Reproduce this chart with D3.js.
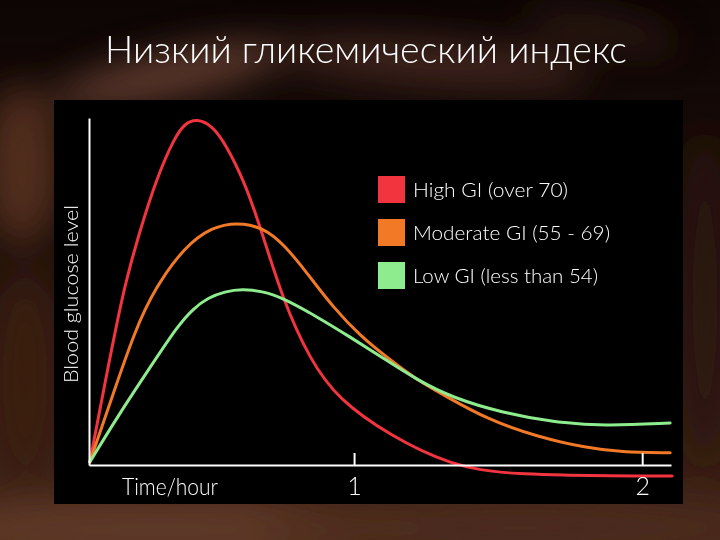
<!DOCTYPE html>
<html><head><meta charset="utf-8">
<script src="https://cdn.jsdelivr.net/npm/d3@7"></script>
<style>html,body{margin:0;padding:0;background:#140a07;overflow:hidden}svg{display:block}</style>
</head><body>
<script>
// ---- data ----
const titleText = "Низкий гликемический индекс";
const yLabelText = "Blood glucose level";
const xLabelText = "Time/hour";
const xTickValues = [1, 2];
const seriesNames = ["High GI (over 70)", "Moderate GI (55 - 69)", "Low GI (less than 54)"];
const seriesColors = ["#f2343f", "#f27a26", "#8eec8e"];

// time (hours) and relative blood glucose level (0-100)
const highT = [0.083, 0.142, 0.201, 0.250, 0.316, 0.378, 0.413, 0.455, 0.507, 0.552, 0.622, 0.681, 0.753, 0.847, 0.944, 1.125, 1.333, 1.531, 2.104];
const highV = [0.9, 26.5, 51.0, 65.7, 83.0, 94.5, 98.5, 99.8, 97.8, 92.8, 81.3, 66.9, 47.6, 30.3, 19.0, 8.4, 0.0, -3.0, -3.2];
const modT = [0.083, 0.160, 0.240, 0.309, 0.413, 0.507, 0.594, 0.681, 0.760, 0.847, 0.927, 1.021, 1.125, 1.219, 1.323, 1.462, 1.635, 1.809, 1.924, 2.097];
const modV = [0.9, 19.6, 38.9, 51.0, 63.0, 68.6, 69.9, 68.6, 63.4, 54.2, 45.5, 37.2, 30.3, 24.5, 19.6, 13.2, 8.1, 4.9, 3.7, 3.5];
const lowT = [0.083, 0.181, 0.299, 0.389, 0.441, 0.493, 0.552, 0.611, 0.681, 0.750, 0.872, 0.986, 1.101, 1.219, 1.344, 1.517, 1.691, 1.865, 2.097];
const lowV = [0.9, 14.2, 29.0, 40.2, 45.0, 48.2, 50.0, 50.7, 50.1, 48.3, 42.7, 36.9, 30.8, 24.5, 19.3, 15.0, 12.4, 11.2, 12.1];

const series = [
  {name: seriesNames[0], color: seriesColors[0], t: highT, v: highV},
  {name: seriesNames[1], color: seriesColors[1], t: modT, v: modV},
  {name: seriesNames[2], color: seriesColors[2], t: lowT, v: lowV}
];

// ---- layout ----
const W = 720, H = 540;
const svg = d3.select("body").append("svg").attr("width", W).attr("height", H);
const defs = svg.append("defs");

// background
const bg = defs.append("linearGradient").attr("id", "bgGrad").attr("x1", 0).attr("y1", 0).attr("x2", 0).attr("y2", 1);
bg.append("stop").attr("offset", "0%").attr("stop-color", "#0c0504");
bg.append("stop").attr("offset", "45%").attr("stop-color", "#1e0f0a");
bg.append("stop").attr("offset", "100%").attr("stop-color", "#422418");
defs.append("filter").attr("id", "blur").attr("x", "-50%").attr("y", "-50%").attr("width", "200%").attr("height", "200%")
  .append("feGaussianBlur").attr("stdDeviation", 18);
svg.append("rect").attr("width", W).attr("height", H).attr("fill", "url(#bgGrad)");
const glows = [
  {cx: 170, cy: 75, rx: 120, ry: 22, rot: -12, c: "#734737", o: 0.8},
  {cx: 430, cy: 62, rx: 160, ry: 22, rot: 4, c: "#5e3828", o: 0.65},
  {cx: 600, cy: 30, rx: 80, ry: 16, rot: 10, c: "#4a2a1e", o: 0.5},
  {cx: 22, cy: 165, rx: 40, ry: 80, rot: 0, c: "#5a3322", o: 0.85},
  {cx: 25, cy: 380, rx: 40, ry: 110, rot: 0, c: "#3c1e13", o: 0.9},
  {cx: 160, cy: 530, rx: 260, ry: 35, rot: 0, c: "#603a28", o: 0.9},
  {cx: 520, cy: 528, rx: 260, ry: 30, rot: 0, c: "#4e2c1e", o: 0.9},
  {cx: 705, cy: 300, rx: 25, ry: 170, rot: 0, c: "#2c1710", o: 0.9}
];
svg.append("g").attr("filter", "url(#blur)").selectAll("ellipse").data(glows).join("ellipse")
  .attr("cx", d => d.cx).attr("cy", d => d.cy).attr("rx", d => d.rx).attr("ry", d => d.ry)
  .attr("transform", d => `rotate(${d.rot},${d.cx},${d.cy})`)
  .attr("fill", d => d.c).attr("opacity", d => d.o);

// title
svg.append("text").attr("x", 105).attr("y", 63)
  .attr("font-family", "Lato, 'Open Sans', 'DejaVu Sans', sans-serif").attr("font-weight", 300).attr("font-size", 37)
  .attr("fill", "#ffffff").attr("textLength", 522).attr("lengthAdjust", "spacingAndGlyphs")
  .text(titleText);

// chart panel
svg.append("rect").attr("x", 54).attr("y", 100).attr("width", 629).attr("height", 404).attr("fill", "#000000");

// scales
const x = d3.scaleLinear().domain([0.08, 2.1]).range([89, 671]);
const y = d3.scaleLinear().domain([0, 100]).range([465, 118]);

const chartFont = "Lato, Roboto, 'DejaVu Sans', sans-serif";

// lines
const line = d3.line().x(d => x(d[0])).y(d => y(d[1])).curve(d3.curveBasis);
svg.append("g").selectAll("path").data(series).join("path")
  .attr("d", s => line(s.t.map((t, i) => [t, s.v[i]])))
  .attr("fill", "none").attr("stroke", s => s.color).attr("stroke-width", 3)
  .attr("stroke-linejoin", "round").attr("stroke-linecap", "round");

// axes
const xAxis = svg.append("g").attr("transform", `translate(0,${y(0)})`)
  .call(d3.axisBottom(x).tickValues(xTickValues).tickFormat(d3.format("d")).tickSize(-12).tickSizeOuter(0).tickPadding(12));
const yAxis = svg.append("g").attr("transform", `translate(${x(0.08)},0)`)
  .call(d3.axisLeft(y).tickValues([]).tickSizeOuter(0));
[xAxis, yAxis].forEach(g => {
  g.selectAll("path, line").attr("stroke", "#ffffff").attr("stroke-width", 2);
  g.selectAll("text").attr("fill", "#ffffff").attr("font-family", chartFont).attr("font-weight", 300).attr("font-size", 25);
});

// axis labels
svg.append("text").attr("x", 122).attr("y", 495)
  .attr("font-family", chartFont).attr("font-weight", 300).attr("font-size", 24).attr("fill", "#ffffff")
  .attr("textLength", 96).attr("lengthAdjust", "spacingAndGlyphs").text(xLabelText);
svg.append("text").attr("transform", "translate(78,383) rotate(-90)")
  .attr("font-family", chartFont).attr("font-weight", 300).attr("font-size", 19).attr("fill", "#ffffff")
  .attr("textLength", 178).attr("lengthAdjust", "spacingAndGlyphs").text(yLabelText);

// legend
const legendWidths = [155, 197, 185];
const leg = svg.append("g").selectAll("g").data(series).join("g")
  .attr("transform", (d, i) => `translate(378,${176 + i * 43})`);
leg.append("rect").attr("width", 27).attr("height", 27).attr("fill", d => d.color);
leg.append("text").attr("x", 35).attr("y", 21)
  .attr("font-family", chartFont).attr("font-weight", 300).attr("font-size", 20).attr("fill", "#ffffff")
  .attr("textLength", (d, i) => legendWidths[i]).attr("lengthAdjust", "spacingAndGlyphs")
  .text(d => d.name);
</script>
</body></html>
